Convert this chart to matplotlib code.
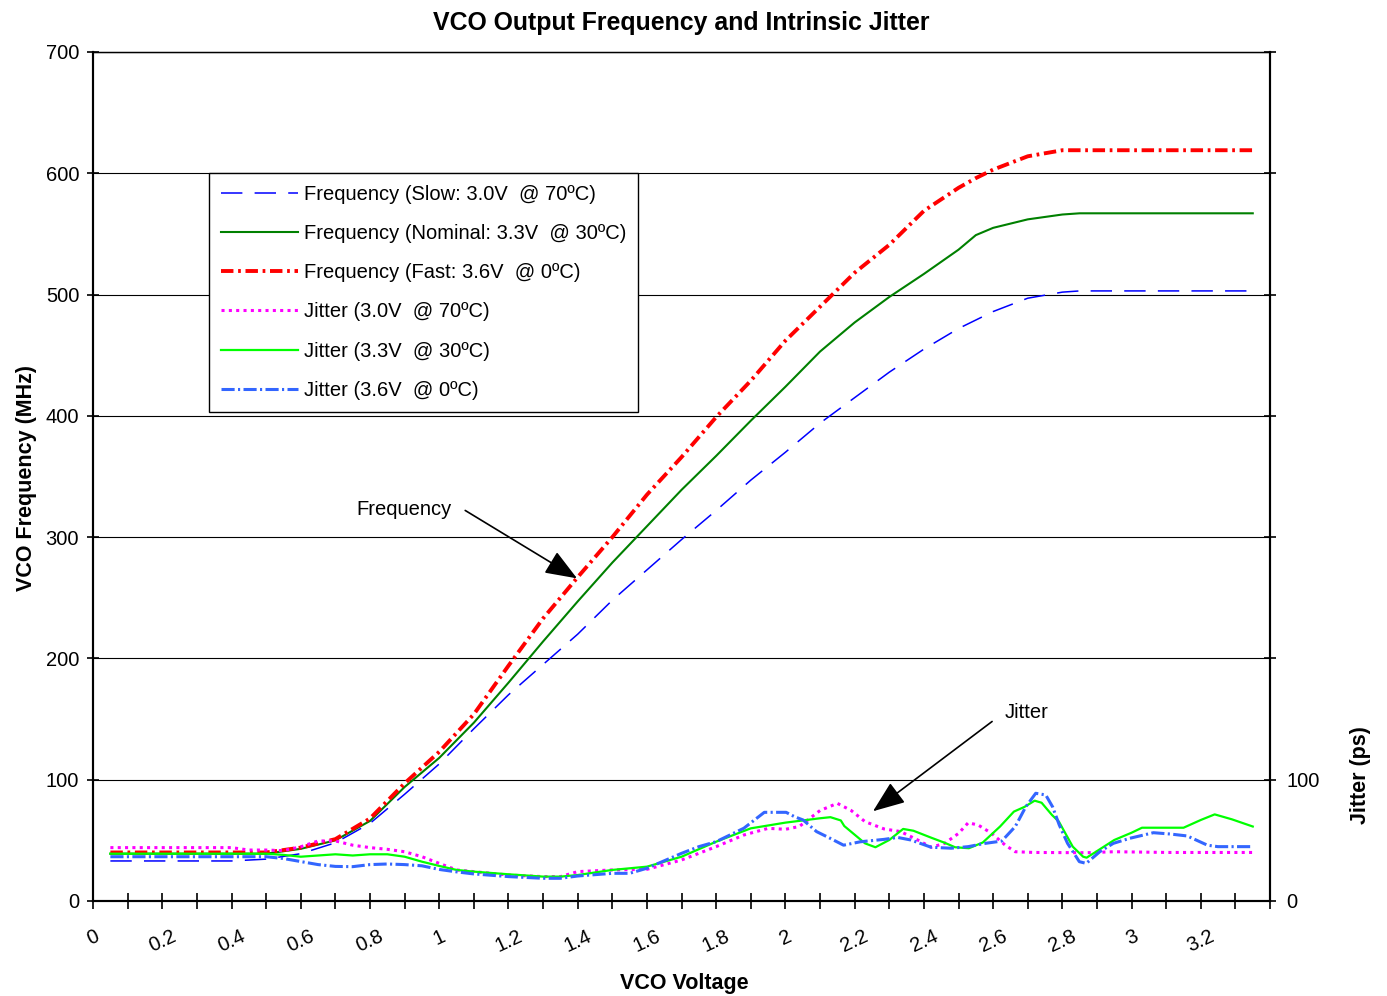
"""
VCO output frequency and intrinsic jitter versus control voltage.
"""

import numpy as np
import matplotlib
matplotlib.use("Agg")
import matplotlib.pyplot as plt

plt.rcParams["font.family"] = ["Liberation Sans", "DejaVu Sans"]

# frequency curves (MHz) share one voltage grid
freq_volts = [0.05, 0.1, 0.2, 0.3, 0.4, 0.5, 0.6, 0.7, 0.8, 0.9, 1.0, 1.1, 1.2,
              1.3, 1.4, 1.5, 1.6, 1.7, 1.8, 1.9, 2.0, 2.1, 2.2, 2.3, 2.4, 2.5,
              2.55, 2.6, 2.7, 2.8, 2.85, 2.9, 3.0, 3.1, 3.2, 3.3, 3.35]
freq_slow = [33, 33, 33, 33, 33, 34.5, 39, 48, 64, 88, 113, 142, 170,
             195, 220, 248, 273, 298, 322, 347, 370, 394, 415, 436, 455, 472,
             479, 486, 497, 502, 503, 503, 503, 503, 503, 503, 503]
freq_nominal = [39, 39, 39, 39, 39, 39, 43, 50, 66, 94, 118, 147, 180,
                214, 247, 279, 309, 339, 367, 396, 424, 453, 477, 498, 517, 537,
                549, 555, 562, 566, 567, 567, 567, 567, 567, 567, 567]
freq_fast = [40, 40, 40, 40, 40, 40, 44, 51, 68, 97, 123, 154, 194,
             233, 267, 300, 335, 366, 399, 429, 462, 490, 518, 541, 569, 588,
             596, 603, 614, 619, 619, 619, 619, 619, 619, 619, 619]

# jitter curves (ps)
jit30_volts = [0.05, 0.2, 0.4, 0.45, 0.5, 0.55, 0.6, 0.65, 0.7, 0.75, 0.8, 0.85,
               0.9, 0.95, 1.0, 1.05, 1.1, 1.2, 1.3, 1.35, 1.4, 1.5, 1.6, 1.7,
               1.8, 1.88, 1.95, 2.0, 2.04, 2.1, 2.15, 2.19, 2.23, 2.285, 2.333,
               2.382, 2.421, 2.46, 2.5, 2.528, 2.557, 2.596, 2.635, 2.664, 2.72,
               2.87, 2.95, 3.11, 3.35]
jit30 = [44, 44, 44, 42, 42, 41.5, 44.7, 49.5, 49.5, 46, 44, 42.6,
         40.6, 36.5, 31, 25.6, 24.2, 21.4, 20.1, 20.1, 24.2, 25.6, 26.1, 33.8,
         44.8, 54.4, 59.9, 59.1, 61.4, 74.6, 80.5, 74.6, 65.4, 59.4, 57.2,
         50.3, 44.3, 47.5, 55.7, 64.5, 62.6, 55.7, 46, 40.6, 40,
         39.8, 40.6, 40, 40]

jit33_volts = [0.05, 0.5, 0.55, 0.6, 0.65, 0.7, 0.75, 0.8, 0.85, 0.9, 0.95, 1.0,
               1.05, 1.1, 1.2, 1.3, 1.35, 1.4, 1.5, 1.6, 1.7, 1.8, 1.9, 2.0,
               2.1, 2.13, 2.16, 2.17, 2.23, 2.26, 2.3, 2.34, 2.37, 2.42, 2.46,
               2.49, 2.53, 2.57, 2.62, 2.66, 2.69, 2.72, 2.74, 2.77, 2.79, 2.83,
               2.86, 2.87, 2.89, 2.95, 3.0, 3.03, 3.15, 3.2, 3.24, 3.29, 3.35]
jit33 = [39, 39, 38, 36.5, 37.5, 38.5, 37.5, 38.5, 38.5, 36.5, 32.4, 28.9,
         25.6, 24.2, 22, 20.1, 20.1, 21.4, 25.6, 28.3, 36.5, 48.9, 59.9, 64.6,
         68.2, 69.1, 66.4, 61.8, 47.5, 44.3, 50.3, 59.4, 57.9, 52.3, 48,
         44.3, 43.5, 48.2, 61.4, 73.7, 77.5, 82.7, 81, 70.9, 65.4, 44.8,
         36.5, 35.7, 39.3, 50.3, 56.3, 60.4, 60.4, 66.8, 71.4, 67.3, 61.4]

jit36_volts = [0.05, 0.5, 0.55, 0.6, 0.65, 0.7, 0.75, 0.8, 0.85, 0.9, 0.95, 1.0,
               1.05, 1.1, 1.2, 1.3, 1.35, 1.4, 1.5, 1.55, 1.6, 1.7, 1.75, 1.8,
               1.88, 1.939, 2.002, 2.027, 2.051, 2.09, 2.129, 2.168, 2.216,
               2.285, 2.324, 2.362, 2.421, 2.479, 2.528, 2.577, 2.625, 2.664,
               2.694, 2.723, 2.752, 2.772, 2.791, 2.815, 2.849, 2.869, 2.908,
               2.947, 2.995, 3.063, 3.112, 3.161, 3.219, 3.249, 3.35]
jit36 = [36.5, 36.5, 35, 32.5, 30, 28.5, 28.3, 30, 30.5, 30, 29, 26,
         24, 22.3, 20.1, 18.7, 18.7, 20.6, 22.8, 22.8, 27, 39.3, 44.8, 48.9,
         60, 73.1, 73.1, 69.4, 66.8, 57.2, 51.7, 46, 48.8,
         50.8, 52.4, 50.3, 44.3, 43.5, 44.8, 47.5, 49.4, 61.4,
         77.5, 88.8, 87.4, 77.5, 62.7, 47.5, 32.4, 31, 40.6,
         47.5, 51.7, 56.3, 55.2, 53.6, 46, 44.8, 44.8]

x_tick_labels = ["0", "0.2", "0.4", "0.6", "0.8", "1", "1.2", "1.4", "1.6",
                 "1.8", "2", "2.2", "2.4", "2.6", "2.8", "3", "3.2", ""]

fig = plt.figure(figsize=(13.87, 9.96), dpi=100)
ax = fig.add_axes([0.0671, 0.0954, 0.8486, 0.8524])
ax2 = ax.twinx()

fs = 14.5

ax.plot(freq_volts, freq_slow, color="#0000FF", lw=1.1, dashes=(14, 8),
        label="Frequency (Slow: 3.0V  @ 70ºC)")
ax.plot(freq_volts, freq_nominal, color="#008000", lw=1.5,
        label="Frequency (Nominal: 3.3V  @ 30ºC)")
ax.plot(freq_volts, freq_fast, color="#FF0000", lw=2.8, dashes=(3.2, 1.2, 0.7, 1.2),
        label="Frequency (Fast: 3.6V  @ 0ºC)")

ax2.plot(jit30_volts, jit30, color="#FF00FF", lw=2.2, dashes=(1, 1.4),
         label="Jitter (3.0V  @ 70ºC)")
ax2.plot(jit33_volts, jit33, color="#00FF00", lw=1.6,
         label="Jitter (3.3V  @ 30ºC)")
ax2.plot(jit36_volts, jit36, color="#3366FF", lw=2.2, dashes=(4.3, 1.1, 0.7, 1.1),
         label="Jitter (3.6V  @ 0ºC)")

for a in (ax, ax2):
    a.set_xlim(0, 3.4)
    a.set_ylim(0, 700)

ax.set_xticks(np.arange(0, 3.41, 0.2))
ax.set_xticklabels(x_tick_labels, rotation=25, fontsize=fs)
ax.set_xticks(np.arange(0.1, 3.4, 0.2), minor=True)
ax.tick_params(axis="x", which="both", direction="inout", length=11, width=1.2,
               pad=13)
ax.set_yticks(np.arange(0, 701, 100))
ax.tick_params(axis="y", direction="inout", length=8, width=1.2, pad=6,
               labelsize=fs)
ax.yaxis.grid(True, color="black", lw=0.8)

ax2.set_yticks(np.arange(0, 701, 100))
ax2.set_yticklabels(["0", "100", "", "", "", "", "", ""])
ax2.tick_params(axis="y", direction="inout", length=8, width=1.2, pad=8,
                labelsize=fs)

for a in (ax, ax2):
    for side in ("left", "right", "bottom"):
        a.spines[side].set_linewidth(1.5)
    a.spines["top"].set_linewidth(0.9)

ax.set_title("VCO Output Frequency and Intrinsic Jitter", fontsize=17.9,
             fontweight="bold", pad=15.5)
ax.set_xlabel("VCO Voltage", fontsize=15.5, fontweight="bold")
ax.xaxis.set_label_coords(0.502, -0.085)
ax.set_ylabel("VCO Frequency (MHz)", fontsize=15.5, fontweight="bold")
ax.yaxis.set_label_coords(-0.048, 0.498)
ax2.set_ylabel("Jitter (ps)", fontsize=15.5, fontweight="bold")
ax2.yaxis.set_label_coords(1.068, 0.148)

arrow = dict(arrowstyle="-|>,head_length=0.9,head_width=0.35", color="black",
             lw=1.2, mutation_scale=22, shrinkA=0, shrinkB=0)
ax2.annotate("", xy=(1.398, 266), xytext=(1.075, 322), arrowprops=arrow)
ax2.text(0.898, 323, "Frequency", fontsize=fs, ha="center", va="center")
ax2.annotate("", xy=(2.253, 74), xytext=(2.597, 148), arrowprops=arrow)
ax2.text(2.698, 155, "Jitter", fontsize=fs, ha="center", va="center")

handles = ax.get_lines() + ax2.get_lines()
handles = [h for h in handles if h.get_label()[0] != "_"]
leg = ax2.legend(handles=handles, loc="upper left", bbox_to_anchor=(0.0986, 0.8575),
                 fontsize=fs, frameon=True, fancybox=False, edgecolor="black",
                 framealpha=1, borderpad=0.6, handlelength=3.8,
                 handletextpad=0.3, labelspacing=1.0, borderaxespad=0)
leg.get_frame().set_linewidth(1.0)
leg.set_zorder(10)

fig.savefig("out.png", dpi=100)
